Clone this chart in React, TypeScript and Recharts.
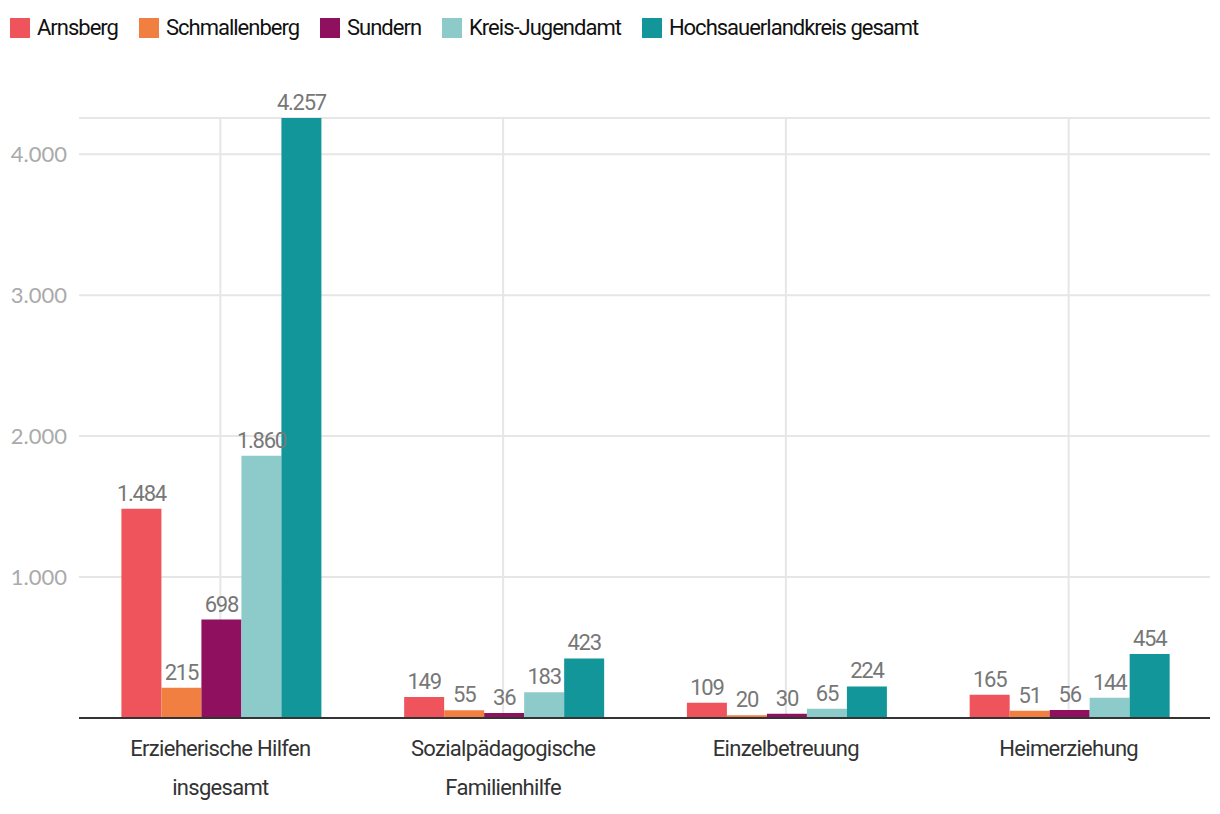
import React from "react";
import { BarChart, Bar, XAxis, YAxis, CartesianGrid, LabelList } from "recharts";

const categories = [
  "Erzieherische Hilfen insgesamt",
  "Sozialpädagogische Familienhilfe",
  "Einzelbetreuung",
  "Heimerziehung",
];
const categoryLines: Record<string, string[]> = {
  "Erzieherische Hilfen insgesamt": ["Erzieherische Hilfen", "insgesamt"],
  "Sozialpädagogische Familienhilfe": ["Sozialpädagogische", "Familienhilfe"],
  Einzelbetreuung: ["Einzelbetreuung"],
  Heimerziehung: ["Heimerziehung"],
};

const arnsberg = [1484, 149, 109, 165];
const schmallenberg = [215, 55, 20, 51];
const sundern = [698, 36, 30, 56];
const kreisJugendamt = [1860, 183, 65, 144];
const hskGesamt = [4257, 423, 224, 454];

const yTicks = [0, 1000, 2000, 3000, 4000];

const series = [
  { key: "arnsberg", name: "Arnsberg", color: "#ef535b", values: arnsberg },
  { key: "schmallenberg", name: "Schmallenberg", color: "#f27f42", values: schmallenberg },
  { key: "sundern", name: "Sundern", color: "#8e105f", values: sundern },
  { key: "kreis", name: "Kreis-Jugendamt", color: "#8ccbca", values: kreisJugendamt },
  { key: "hsk", name: "Hochsauerlandkreis gesamt", color: "#13969a", values: hskGesamt },
];

const data = categories.map((cat, i) => {
  const row: Record<string, string | number> = { name: cat };
  series.forEach((s) => {
    row[s.key] = s.values[i];
  });
  return row;
});

const sans = "Roboto, sans-serif";

const fmt = (v: number) => v.toLocaleString("de-DE");

function CategoryTick(props: any) {
  const { x, y, payload } = props;
  const lines = categoryLines[payload.value] || [payload.value];
  return (
    <g transform={`translate(${x},${y})`}>
      {lines.map((line, i) => (
        <text
          key={i}
          x={0}
          y={36 + i * 39}
          textAnchor="middle"
          fill="#333333"
          fontSize={22}
          letterSpacing={-0.7}
          fontFamily={sans}
        >
          {line}
        </text>
      ))}
    </g>
  );
}

// vertical grid only at category centres, no border lines
const centreLines = ({ offset }: any) =>
  categories.map((_, i) => offset.left + (offset.width / categories.length) * (i + 0.5));

export default function App() {
  return (
    <div style={{ position: "relative", width: 1204, height: 798 }}>
      <div
        style={{
          position: "absolute",
          top: 7,
          left: 2,
          display: "flex",
          alignItems: "center",
          fontFamily: sans,
          fontSize: 22,
          lineHeight: "26px",
          letterSpacing: -1,
          color: "#111",
        }}
      >
        {series.map((s) => (
          <div key={s.key} style={{ display: "flex", alignItems: "center", marginRight: 21 }}>
            <span style={{ width: 20, height: 20, background: s.color, display: "inline-block", marginRight: 7 }} />
            <span>{s.name}</span>
          </div>
        ))}
      </div>
      <BarChart
        width={1204}
        height={798}
        data={data}
        margin={{ top: 110, right: 2, left: 0, bottom: 0 }}
        barCategoryGap="15%"
        barGap={0}
      >
        <CartesianGrid stroke="#e6e6e6" strokeWidth={2} verticalCoordinatesGenerator={centreLines} />
        <XAxis
          dataKey="name"
          height={88}
          tickLine={false}
          tickSize={0}
          axisLine={{ stroke: "#333333", strokeWidth: 2 }}
          tick={<CategoryTick />}
          interval={0}
        />
        <YAxis
          width={71}
          domain={[0, "dataMax"]}
          ticks={yTicks}
          tickLine={false}
          axisLine={false}
          tickSize={0}
          tickMargin={12}
          tickFormatter={(v: number) => (v === 0 ? "" : fmt(v))}
          tick={{ fill: "#aaaaaa", fontSize: 22, fontFamily: "Lato, sans-serif" }}
        />
        {series.map((s) => (
          <Bar key={s.key} dataKey={s.key} name={s.name} fill={s.color} isAnimationActive={false}>
            <LabelList
              dataKey={s.key}
              position="top"
              offset={8}
              formatter={(v: any) => fmt(Number(v))}
              style={{ fill: "#777777", fontSize: 22, letterSpacing: -1.3, fontFamily: sans }}
            />
          </Bar>
        ))}
      </BarChart>
    </div>
  );
}
